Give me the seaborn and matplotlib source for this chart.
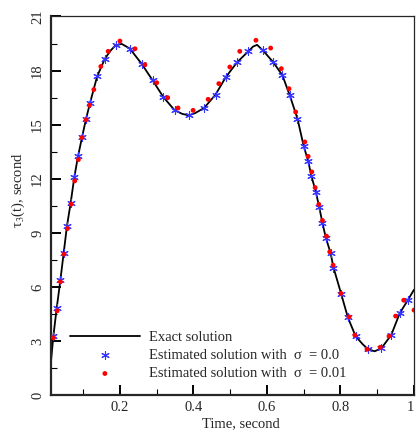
"""
plot.py
Exact vs. estimated tau_3(t) — recreated with seaborn / matplotlib
"""

import matplotlib
matplotlib.use("Agg")
import matplotlib.pyplot as plt
from matplotlib.ticker import MultipleLocator, FixedLocator
import pandas as pd
import seaborn as sns

# ─────────────────────────────────────────────
# Data
# ─────────────────────────────────────────────
exact_t = [0.0125, 0.019, 0.028, 0.038, 0.047, 0.056, 0.066, 0.076, 0.086, 0.097,
           0.108, 0.119, 0.138, 0.159, 0.175, 0.188, 0.205, 0.227, 0.259, 0.289,
           0.318, 0.349, 0.370, 0.388, 0.405, 0.429, 0.460, 0.488, 0.519, 0.549,
           0.562, 0.573, 0.589, 0.617, 0.642, 0.662, 0.683, 0.700, 0.712, 0.721,
           0.733, 0.742, 0.751, 0.760, 0.773, 0.781, 0.802, 0.820, 0.841, 0.860,
           0.875, 0.893, 0.911, 0.938, 0.961, 0.983, 1.000]
exact_y = [1.90, 3.30, 4.84, 6.39, 7.90, 9.40, 10.67, 12.11, 13.25, 14.32,
           15.34, 16.23, 17.68, 18.66, 19.12, 19.40, 19.48, 19.22, 18.38, 17.46,
           16.54, 15.80, 15.60, 15.52, 15.65, 15.93, 16.67, 17.64, 18.47, 19.06,
           19.33, 19.43, 19.12, 18.47, 17.74, 16.63, 15.34, 13.81, 13.00, 12.15,
           11.28, 10.45, 9.56, 8.75, 7.90, 7.09, 5.62, 4.33, 3.29, 2.85,
           2.56, 2.45, 2.61, 3.35, 4.55, 5.28, 5.86]

# estimated, sigma = 0.0 (blue asterisks)
est0_t = [0.019, 0.028, 0.038, 0.047, 0.056, 0.066, 0.076, 0.086, 0.097, 0.108,
          0.119, 0.138, 0.159, 0.188, 0.227, 0.259, 0.289, 0.318, 0.349, 0.388,
          0.429, 0.460, 0.488, 0.519, 0.549, 0.589, 0.617, 0.642, 0.662, 0.683,
          0.700, 0.712, 0.721, 0.733, 0.742, 0.751, 0.760, 0.773, 0.781, 0.802,
          0.820, 0.841, 0.875, 0.911, 0.938, 0.961, 0.983]
est0_y = [3.30, 4.84, 6.39, 7.90, 9.40, 10.67, 12.11, 13.25, 14.32, 15.34,
          16.23, 17.68, 18.66, 19.40, 19.22, 18.38, 17.46, 16.54, 15.80, 15.52,
          15.93, 16.67, 17.64, 18.47, 19.06, 19.12, 18.47, 17.74, 16.63, 15.34,
          13.81, 13.00, 12.15, 11.28, 10.45, 9.56, 8.75, 7.90, 7.09, 5.62,
          4.33, 3.29, 2.56, 2.61, 3.35, 4.55, 5.28]

# estimated, sigma = 0.01 (red dots)
est1_t = [0.019, 0.029, 0.038, 0.048, 0.057, 0.067, 0.077, 0.087, 0.097, 0.108,
          0.117, 0.129, 0.148, 0.168, 0.200, 0.241, 0.268, 0.300, 0.330, 0.358,
          0.399, 0.440, 0.469, 0.499, 0.526, 0.570, 0.610, 0.639, 0.660, 0.678,
          0.703, 0.712, 0.722, 0.731, 0.741, 0.751, 0.762, 0.771, 0.780, 0.801,
          0.823, 0.839, 0.872, 0.908, 0.932, 0.950, 0.972, 1.000]
est1_y = [3.20, 4.69, 6.30, 7.83, 9.25, 10.60, 11.89, 13.07, 14.29, 15.28,
          16.08, 16.95, 18.23, 19.07, 19.64, 19.21, 18.33, 17.33, 16.50, 15.93,
          15.80, 16.41, 17.28, 18.20, 19.07, 19.68, 19.25, 18.11, 17.00, 15.71,
          14.05, 13.25, 12.39, 11.52, 10.59, 9.70, 8.83, 7.96, 7.22, 5.66,
          4.36, 3.35, 2.56, 2.67, 3.29, 4.40, 5.28, 4.73]

x_ticks = [0.2, 0.4, 0.6, 0.8, 1.0]
x_tick_labels = ["0.2", "0.4", "0.6", "0.8", "1"]
y_ticks = [0, 3, 6, 9, 12, 15, 18, 21]

# ─────────────────────────────────────────────
# Style
# ─────────────────────────────────────────────
sns.set_style("ticks")
plt.rcParams["font.family"] = ["Liberation Serif", "DejaVu Serif"]
plt.rcParams["mathtext.fontset"] = "stix"
FS = 10.5

df_exact = pd.DataFrame({"t": exact_t, "y": exact_y})
df_est0 = pd.DataFrame({"t": est0_t, "y": est0_y})
df_est1 = pd.DataFrame({"t": est1_t, "y": est1_y})

fig = plt.figure(figsize=(4.16, 4.36), dpi=100)
ax = fig.add_axes([0.1226, 0.0929, 0.8726, 0.8693])

sns.lineplot(data=df_exact, x="t", y="y", ax=ax, color="black", lw=1.3,
             label="Exact solution", zorder=2)
sns.scatterplot(data=df_est0, x="t", y="y", ax=ax, marker=(6, 2, 0), s=30,
                color="#3535ff", edgecolor="#3535ff", linewidth=0.8,
                label="Estimated solution with  σ  = 0.0", zorder=3)
sns.scatterplot(data=df_est1, x="t", y="y", ax=ax, marker="o", s=12,
                color="#ff0000", edgecolor="none",
                label="Estimated solution with  σ  = 0.01", zorder=4)

ax.set_xlim(0.0125, 1.0)
ax.set_ylim(0, 21)

ax.xaxis.set_major_locator(FixedLocator(x_ticks))
ax.set_xticklabels(x_tick_labels)
ax.xaxis.set_minor_locator(MultipleLocator(0.1))
ax.yaxis.set_major_locator(FixedLocator(y_ticks))
ax.yaxis.set_minor_locator(MultipleLocator(1.5))

ax.tick_params(axis="both", which="both", direction="in", top=False, right=False,
               labelsize=FS, color="black")
ax.tick_params(axis="both", which="major", length=7, width=1.4)
ax.tick_params(axis="both", which="minor", length=4, width=0.8)
ax.tick_params(axis="x", pad=4)
ax.tick_params(axis="y", pad=5)
for lab in ax.get_yticklabels():
    lab.set_rotation(90)
    lab.set_va("center")
# last x label sits against the right edge of the figure
ax.get_xticklabels()[-1].set_ha("right")

for side in ["left", "bottom"]:
    ax.spines[side].set_linewidth(1.6)
for side in ["top", "right"]:
    ax.spines[side].set_linewidth(0.9)
    ax.spines[side].set_visible(True)

ax.set_xlabel("Time, second", fontsize=FS)
ax.set_ylabel("τ$_3$(t), second", fontsize=FS)
ax.xaxis.set_label_coords(0.523, -0.058)
ax.yaxis.set_label_coords(-0.065, 0.542)

ax.legend(loc="lower left", bbox_to_anchor=(0.052, 0.04), frameon=False,
          fontsize=FS, handlelength=4.8, handletextpad=0.6, labelspacing=0.35,
          borderpad=0, borderaxespad=0)

fig.savefig("out.png", dpi=100)
print("[INFO] saved -> out.png")
